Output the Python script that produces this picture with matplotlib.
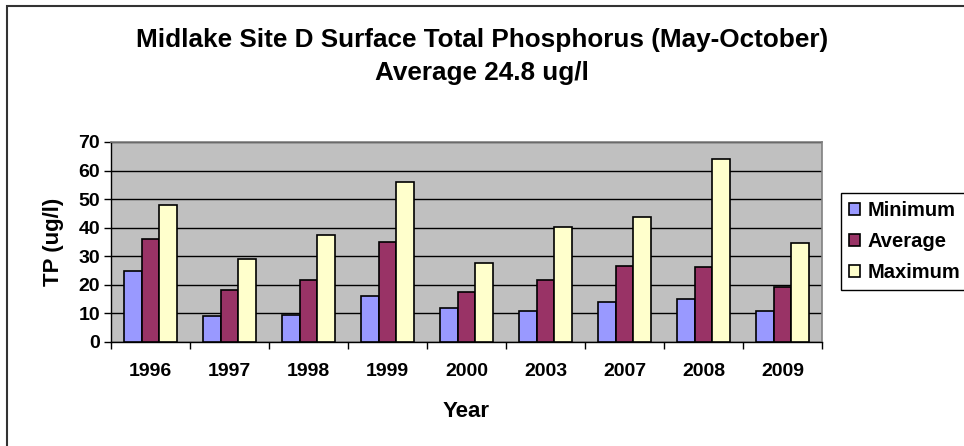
import numpy as np
import matplotlib
matplotlib.use("Agg")
from matplotlib import pyplot as plt
from matplotlib.patches import Rectangle

plt.rcParams['font.family'] = ['Liberation Sans', 'DejaVu Sans']
plt.rcParams['font.weight'] = 'bold'

# data
years = ['1996', '1997', '1998', '1999', '2000', '2003', '2007', '2008', '2009']
tp_min = [25, 9, 9.5, 16, 12, 11, 14, 15, 11]
tp_avg = [36, 18.2, 21.8, 35, 17.5, 21.8, 26.7, 26.2, 19.4]
tp_max = [48, 29.2, 37.6, 55.9, 27.8, 40.2, 43.8, 63.9, 34.6]
series_names = ['Minimum', 'Average', 'Maximum']
colors = ['#9999FF', '#993366', '#FFFFCC']

W, H = 964, 446
fig = plt.figure(figsize=(W / 100, H / 100), dpi=100)
ax = fig.add_axes([111 / W, 1 - 342 / H, 711 / W, 200 / H])
ax.set_facecolor('#C0C0C0')

x = np.arange(len(years))
bw = 0.223
for k, (vals, name) in enumerate(zip([tp_min, tp_avg, tp_max], series_names)):
    ax.bar(x + (k - 1) * bw, vals, width=bw, color=colors[k], edgecolor='black',
           linewidth=1.2, label=name, zorder=3)

ax.set_xlim(-0.5, len(years) - 0.5)
ax.set_ylim(0, 70)
ax.set_yticks(range(0, 71, 10))
ax.yaxis.grid(True, color='black', linewidth=1, zorder=1)
ax.set_axisbelow(True)

ax.set_xticks(x)
ax.set_xticklabels(years, fontsize=14, fontweight='bold')
ax.set_xticks(np.arange(-0.5, len(years)), minor=True)
ax.tick_params(axis='x', which='major', length=0, pad=15)
ax.tick_params(axis='x', which='minor', length=5, color='black', width=1)
ax.tick_params(axis='y', length=5, width=1, color='black', labelsize=14, pad=3)
for lab in ax.get_yticklabels():
    lab.set_fontweight('bold')

for s in ['top', 'right']:
    ax.spines[s].set_color('#808080')
    ax.spines[s].set_linewidth(1.2)
for s in ['left', 'bottom']:
    ax.spines[s].set_color('black')
    ax.spines[s].set_linewidth(1)

ax.set_xlabel('Year', fontsize=16, fontweight='bold', labelpad=15)
ax.set_ylabel('TP (ug/l)', fontsize=16, fontweight='bold', labelpad=10)

fig.text(0.5, 1 - 40 / H, 'Midlake Site D Surface Total Phosphorus (May-October)',
         ha='center', va='center', fontsize=18.8, fontweight='bold')
fig.text(0.5, 1 - 73 / H, 'Average 24.8 ug/l',
         ha='center', va='center', fontsize=18.8, fontweight='bold')

leg = ax.legend(loc='upper left', bbox_to_anchor=(841 / W, 1 - 193 / H),
                bbox_transform=fig.transFigure, fancybox=False, framealpha=1,
                edgecolor='black', fontsize=14.5, handlelength=0.55, handleheight=0.55,
                handletextpad=0.35, labelspacing=0.6, borderpad=0.4,
                borderaxespad=0)
leg.get_frame().set_linewidth(1)
for t in leg.get_texts():
    t.set_fontweight('bold')

# outer chart border (left and top visible)
fig.patches.append(Rectangle((7 / W, -0.1), 1.0, (H - 6) / H + 0.1,
                             transform=fig.transFigure, fill=False,
                             edgecolor='#333333', linewidth=1.5))

fig.savefig('out.png', dpi=100)
